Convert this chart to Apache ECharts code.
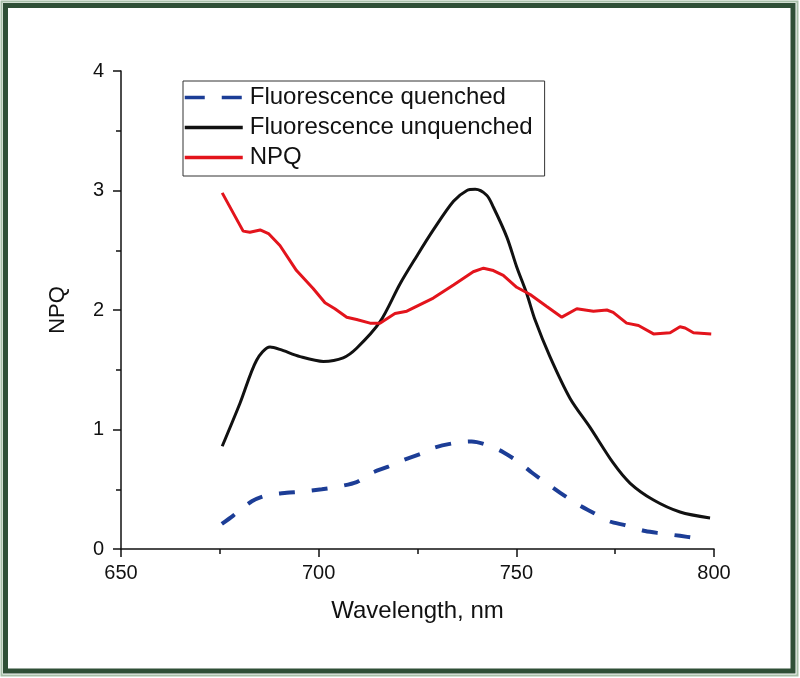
<!DOCTYPE html>
<html>
<head>
    <meta charset="utf-8">
    <title>NPQ spectra</title>
    <style>
        body { margin: 0; background: #fff; }
    </style>
</head>
<body>
    <div id="main" style="width: 800px;height:678px;"></div>

    <script src="https://cdn.jsdelivr.net/npm/echarts@6/dist/echarts.min.js"></script>
    <script type="text/javascript">
        // values (wavelength in nm)
        var quenchedWl  = [675.5, 678.4, 683.1, 686.9, 691.9, 695.7, 700.8, 704.6, 709.6, 713.0, 717.6, 721.0, 726.1, 729.4, 734.9, 738.7, 743.4, 746.7, 750.9, 753.9, 758.1, 761.1, 765.7, 769.1, 773.7, 777.5, 782.6, 786.8, 791.4, 795.6];
        var quenchedVal = [0.21, 0.28, 0.40, 0.45, 0.47, 0.48, 0.50, 0.52, 0.56, 0.63, 0.69, 0.74, 0.80, 0.85, 0.89, 0.90, 0.86, 0.81, 0.72, 0.64, 0.54, 0.47, 0.37, 0.31, 0.23, 0.20, 0.15, 0.13, 0.11, 0.09];

        var unquenchedWl  = [675.6, 680.1, 684.3, 687.7, 690.2, 695.3, 701.2, 706.2, 709.6, 715.5, 720.6, 724.8, 729.0, 734.1, 737.5, 739.6, 742.5, 744.2, 747.6, 750.1, 752.6, 754.7, 758.5, 763.6, 768.6, 774.5, 778.8, 784.7, 791.4, 799.0];
        var unquenchedVal = [0.86, 1.22, 1.58, 1.69, 1.67, 1.61, 1.57, 1.60, 1.68, 1.90, 2.22, 2.45, 2.67, 2.91, 3.00, 3.01, 2.96, 2.86, 2.61, 2.36, 2.14, 1.92, 1.61, 1.26, 1.02, 0.72, 0.55, 0.41, 0.31, 0.26];

        var npqWl  = [675.6, 680.9, 682.6, 685.2, 687.3, 690.2, 694.4, 698.6, 701.6, 704.1, 707.1, 709.6, 713.0, 715.5, 719.3, 722.3, 729.0, 734.1, 739.1, 741.7, 744.2, 746.7, 750.1, 753.5, 757.7, 761.5, 765.3, 769.5, 772.9, 774.5, 777.9, 780.9, 784.7, 788.9, 791.4, 792.7, 794.8, 799.3];
        var npqVal = [2.98, 2.66, 2.65, 2.67, 2.64, 2.54, 2.33, 2.18, 2.06, 2.01, 1.94, 1.92, 1.89, 1.89, 1.97, 1.99, 2.10, 2.21, 2.32, 2.35, 2.33, 2.29, 2.19, 2.13, 2.03, 1.94, 2.01, 1.99, 2.00, 1.98, 1.89, 1.87, 1.80, 1.81, 1.86, 1.85, 1.81, 1.80];

        var seriesNames = ['Fluorescence quenched', 'Fluorescence unquenched', 'NPQ'];

        function pairs(xs, ys) {
            var out = [];
            for (var i = 0; i < xs.length; i++) {
                out.push([xs[i], ys[i]]);
            }
            return out;
        }

        var font = "'Liberation Sans', Arial, sans-serif";

        var myChart = echarts.init(document.getElementById('main'));
        var option = {
            backgroundColor: '#fff',
            animation: false,
            textStyle: { fontFamily: font },
            grid: {
                left: 121,
                right: 86,
                top: 71,
                bottom: 129
            },
            legend: {
                orient: 'vertical',
                left: 183,
                top: 81,
                data: [
                    { name: seriesNames[0], lineStyle: { type: [20, 17] } },
                    { name: seriesNames[1] },
                    { name: seriesNames[2] }
                ],
                itemWidth: 58,
                itemHeight: 14,
                itemGap: 5,
                padding: [4, 12, 6, 0],
                borderColor: '#333',
                borderWidth: 1,
                itemStyle: { opacity: 0 },
                lineStyle: { width: 3.5 },
                textStyle: {
                    fontFamily: font,
                    fontSize: 24,
                    color: '#111',
                    lineHeight: 25,
                    padding: [0, 0, 0, 2]
                }
            },
            xAxis: {
                type: 'value',
                min: 650,
                max: 800,
                interval: 50,
                name: 'Wavelength, nm',
                nameLocation: 'middle',
                nameGap: 50,
                nameTextStyle: { fontSize: 24, color: '#111', fontFamily: font },
                axisLine: { lineStyle: { color: '#111', width: 1.5 } },
                axisTick: { inside: false, length: 8, lineStyle: { color: '#111', width: 1.5 } },
                minorTick: { show: true, splitNumber: 2, length: 5, lineStyle: { color: '#111', width: 1.5 } },
                axisLabel: { fontSize: 20, color: '#111', margin: 14, fontFamily: font },
                splitLine: { show: false }
            },
            yAxis: {
                type: 'value',
                min: 0,
                max: 4,
                interval: 1,
                name: 'NPQ',
                nameLocation: 'middle',
                nameGap: 52,
                nameRotate: 90,
                nameTextStyle: { fontSize: 22, color: '#111', fontFamily: font },
                axisLine: { show: true, lineStyle: { color: '#111', width: 1.5 } },
                axisTick: { show: true, inside: false, length: 8, lineStyle: { color: '#111', width: 1.5 } },
                minorTick: { show: true, splitNumber: 2, length: 5, lineStyle: { color: '#111', width: 1.5 } },
                axisLabel: { fontSize: 20, color: '#111', margin: 17, fontFamily: font },
                splitLine: { show: false }
            },
            graphic: [
                {
                    type: 'rect',
                    shape: { x: 1.5, y: 1.5, width: 796, height: 674 },
                    style: { fill: 'none', stroke: '#a7bfa8', lineWidth: 2 },
                    silent: true
                },
                {
                    type: 'rect',
                    shape: { x: 5.5, y: 5.5, width: 787.5, height: 665.5 },
                    style: { fill: 'none', stroke: '#2f4f36', lineWidth: 5 },
                    silent: true
                }
            ],
            series: [
                {
                    name: seriesNames[0],
                    type: 'line',
                    data: pairs(quenchedWl, quenchedVal),
                    smooth: 0.3,
                    symbol: 'none',
                    color: '#1c3d96',
                    lineStyle: { color: '#1c3d96', width: 4, type: [16, 17] }
                },
                {
                    name: seriesNames[1],
                    type: 'line',
                    data: pairs(unquenchedWl, unquenchedVal),
                    smooth: 0.3,
                    symbol: 'none',
                    color: '#111',
                    lineStyle: { color: '#111', width: 3 }
                },
                {
                    name: seriesNames[2],
                    type: 'line',
                    data: pairs(npqWl, npqVal),
                    symbol: 'none',
                    color: '#e3141c',
                    lineStyle: { color: '#e3141c', width: 3 }
                }
            ]
        };
        myChart.setOption(option);
    </script>
</body>
</html>
